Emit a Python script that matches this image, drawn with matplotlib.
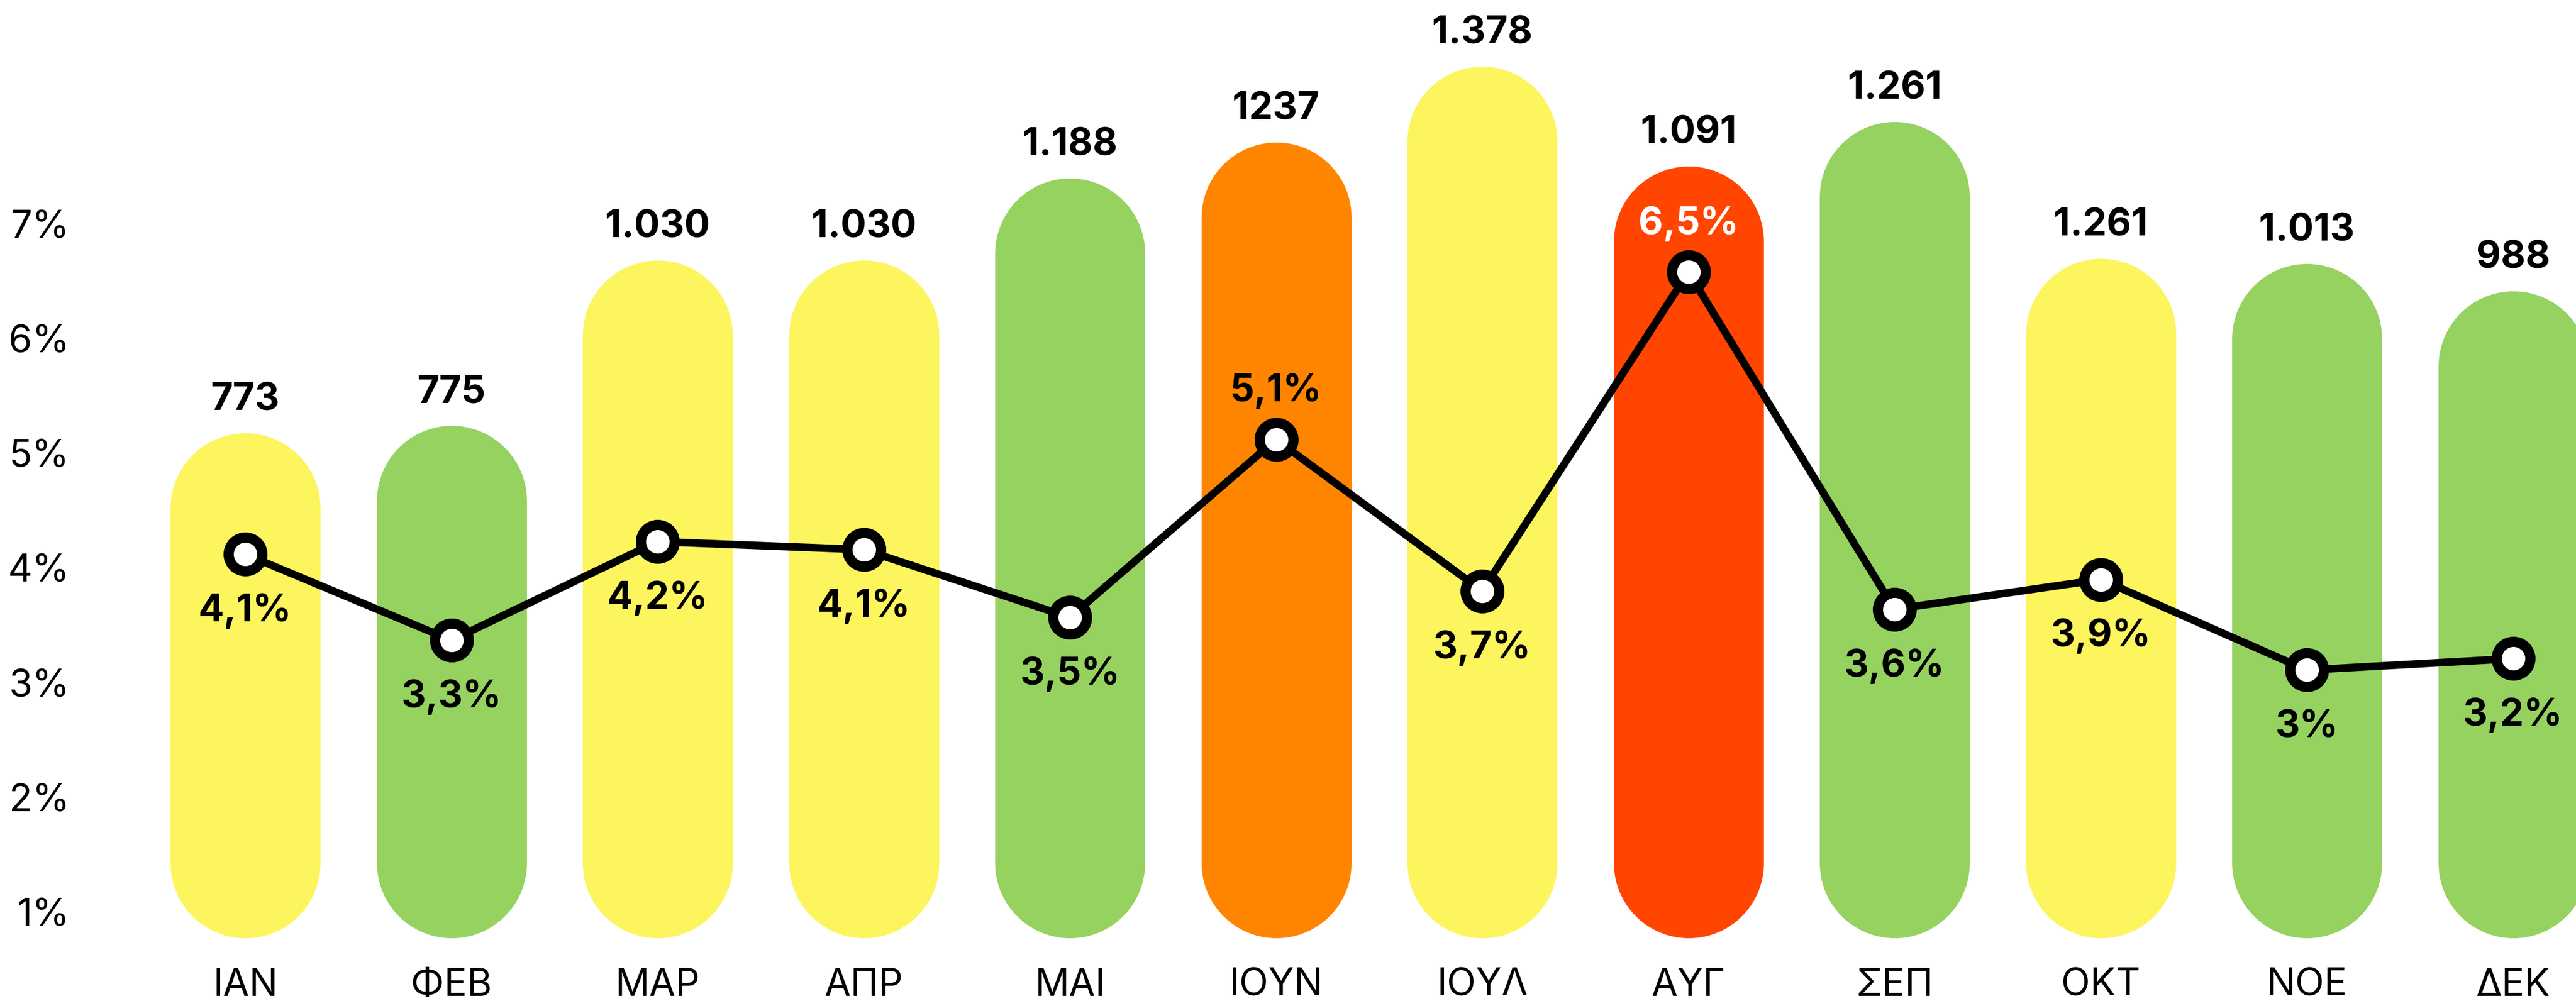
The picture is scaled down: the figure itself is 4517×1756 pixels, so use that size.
import matplotlib.pyplot as plt

plt.rcParams['font.family'] = ['Inter', 'DejaVu Sans']

# data
months = ['ΙΑΝ', 'ΦΕΒ', 'ΜΑΡ', 'ΑΠΡ', 'ΜΑΙ', 'ΙΟΥΝ', 'ΙΟΥΛ', 'ΑΥΓ', 'ΣΕΠ', 'ΟΚΤ', 'ΝΟΕ', 'ΔΕΚ']
count_labels = ['773', '775', '1.030', '1.030', '1.188', '1237', '1.378', '1.091', '1.261', '1.261', '1.013', '988']
bar_heights = [773, 784, 1037, 1037, 1163, 1218, 1334, 1181, 1249, 1040, 1032, 990]
bar_colors = ['#FCF55E', '#96D260', '#FCF55E', '#FCF55E', '#96D260', '#FF8500',
              '#FCF55E', '#FF4500', '#96D260', '#FCF55E', '#96D260', '#96D260']
pct = [4.12, 3.37, 4.23, 4.16, 3.57, 5.12, 3.80, 6.58, 3.64, 3.90, 3.11, 3.21]
pct_labels = ['4,1%', '3,3%', '4,2%', '4,1%', '3,5%', '5,1%', '3,7%', '6,5%', '3,6%', '3,9%', '3%', '3,2%']
pct_above = [False, False, False, False, False, True, False, True, False, False, False, False]
pct_ticks = [1, 2, 3, 4, 5, 6, 7]

W, H, DPI = 4517, 1756, 300
fig = plt.figure(figsize=(W / DPI, H / DPI), dpi=DPI)
ax = fig.add_axes([0, 0, 1, 1])

# layout in pixels
step = 361.5
x_first = 430
base_px = 111
k = 1.146  # px per count unit
bar_w = 263
ax.set_xlim(-x_first / step, (W - x_first) / step)
ax.set_ylim(-base_px / k, (H - base_px) / k)

r = (bar_w / 2) / k
lw = bar_w / DPI * 72
for i, (h, c) in enumerate(zip(bar_heights, bar_colors)):
    ax.plot([i, i], [r, h - r], color=c, lw=lw, solid_capstyle='round', zorder=1)
    ax.annotate(count_labels[i], (i, h), xytext=(0, 9.6), textcoords='offset points',
                ha='center', va='baseline', fontsize=16, fontweight='bold')

ax.set_yticks([])
ax.set_xticks(range(len(months)), months)
ax.tick_params(axis='x', length=0, pad=-14, labelsize=16)
for s in ax.spines.values():
    s.set_visible(False)
ax.patch.set_alpha(0)

ax2 = ax.twinx()
ax2.set_ylim(1 - 156 / 201.2, 1 + 1600 / 201.2)
ax2.plot(range(len(pct)), pct, color='black', lw=3.2, marker='o', ms=14.2,
         mfc='white', mec='black', mew=4.3, zorder=3)
for i, (v, t) in enumerate(zip(pct, pct_labels)):
    dy = 16 if pct_above[i] else -28.3
    col = 'white' if months[i] == 'ΑΥΓ' else 'black'
    ax2.annotate(t, (i, v), xytext=(0, dy), textcoords='offset points',
                 ha='center', va='baseline', fontsize=16, fontweight='bold', color=col)

ax2.yaxis.set_ticks_position('left')
ax2.set_yticks(pct_ticks, [f'{t}%' for t in pct_ticks])
ax2.tick_params(axis='y', length=0, pad=-29.3, labelsize=16)
for s in ax2.spines.values():
    s.set_visible(False)

fig.savefig('out.png', dpi=DPI)
